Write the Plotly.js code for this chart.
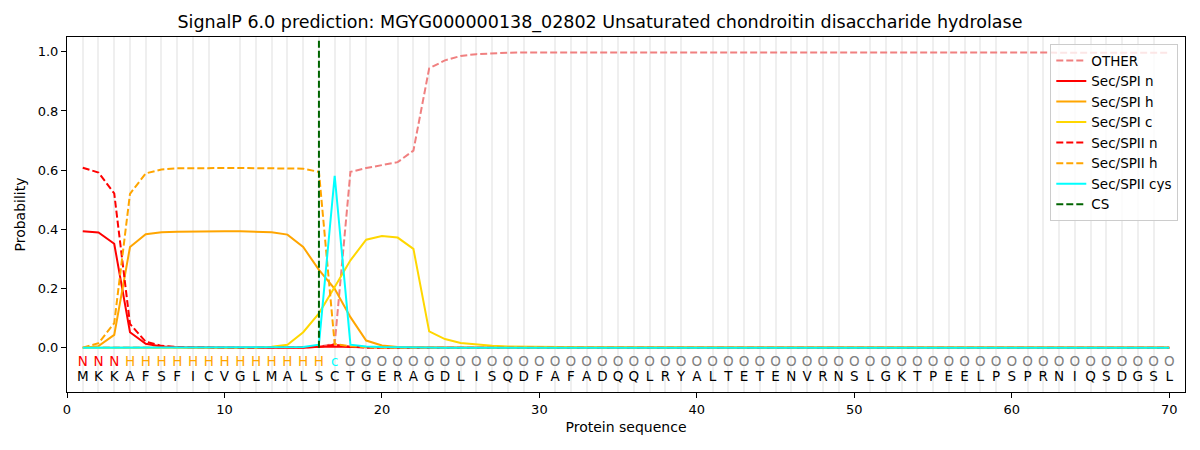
<!DOCTYPE html>
<html>
<head>
<meta charset="utf-8">
<script src="https://cdn.plot.ly/plotly-3.0.1.min.js"></script>
<style>
  body { margin: 0; background: #fff; }
  #chart { width: 1200px; height: 450px; }
</style>
</head>
<body>
<div id="chart"></div>
<script>
const SEQUENCE = ["M","K","K","A","F","S","F","I","C","V",
                  "G","L","M","A","L","S","C","T","G","E",
                  "R","A","G","D","L","I","S","Q","D","F",
                  "A","F","A","D","Q","Q","L","R","Y","A",
                  "L","T","E","T","E","N","V","R","N","S",
                  "L","G","K","T","P","E","E","L","P","S",
                  "P","R","N","I","Q","S","D","G","S","L"];

const LABELS = ["N","N","N","H","H","H","H","H","H","H",
                "H","H","H","H","H","H","c","O","O","O",
                "O","O","O","O","O","O","O","O","O","O",
                "O","O","O","O","O","O","O","O","O","O",
                "O","O","O","O","O","O","O","O","O","O",
                "O","O","O","O","O","O","O","O","O","O",
                "O","O","O","O","O","O","O","O","O","O"];

const OTHER = [0,0,0,0,0,0,0,0,0,0,
               0,0,0,0,0.001,0.003,0.013,0.594,0.607,0.617,
               0.627,0.666,0.944,0.971,0.986,0.992,0.995,0.997,0.998,0.998,
               0.998,0.998,0.998,0.998,0.998,0.998,0.998,0.998,0.998,0.998,
               0.998,0.998,0.998,0.998,0.998,0.998,0.998,0.998,0.998,0.998,
               0.998,0.998,0.998,0.998,0.998,0.997,0.997,0.997,0.997,0.997,
               0.997,0.997,0.997,0.997,0.997,0.997,0.997,0.997,0.997,0.997];

const SPI_N = [0.393,0.389,0.351,0.052,0.013,0.004,0.001,0,0,0,
               0,0,0,0,0,0.003,0.004,0.002,0.001,0,
               0,0,0,0,0,0,0,0,0,0,
               0,0,0,0,0,0,0,0,0,0,
               0,0,0,0,0,0,0,0,0,0,
               0,0,0,0,0,0,0,0,0,0,
               0,0,0,0,0,0,0,0,0,0];

const SPI_H = [0,0.005,0.043,0.34,0.383,0.39,0.392,0.393,0.393,0.393,
               0.393,0.392,0.39,0.382,0.34,0.263,0.199,0.103,0.024,0.007,
               0.002,0.001,0,0,0,0,0,0,0,0,
               0,0,0,0,0,0,0,0,0,0,
               0,0,0,0,0,0,0,0,0,0,
               0,0,0,0,0,0,0,0,0,0,
               0,0,0,0,0,0,0,0,0,0];

const SPI_C = [0,0,0,0,0,0,0,0,0,0,
               0,0,0.003,0.01,0.052,0.116,0.205,0.295,0.365,0.377,
               0.372,0.334,0.055,0.029,0.016,0.01,0.006,0.004,0.003,0.002,
               0.002,0.001,0.001,0.001,0.001,0.001,0.001,0.001,0.001,0.001,
               0,0,0,0,0,0,0,0,0,0,
               0,0,0,0,0,0,0,0,0,0,
               0,0,0,0,0,0,0,0,0,0];

const SPII_N = [0.608,0.592,0.521,0.08,0.02,0.006,0.002,0.001,0,0,
                0,0,0,0,0,0.002,0.01,0.003,0,0,
                0,0,0,0,0,0,0,0,0,0,
                0,0,0,0,0,0,0,0,0,0,
                0,0,0,0,0,0,0,0,0,0,
                0,0,0,0,0,0,0,0,0,0,
                0,0,0,0,0,0,0,0,0,0];

const SPII_H = [0,0.015,0.083,0.52,0.589,0.602,0.606,0.607,0.607,0.607,
                0.607,0.607,0.607,0.607,0.605,0.594,0.012,0.005,0.001,0,
                0,0,0,0,0,0,0,0,0,0,
                0,0,0,0,0,0,0,0,0,0,
                0,0,0,0,0,0,0,0,0,0,
                0,0,0,0,0,0,0,0,0,0,
                0,0,0,0,0,0,0,0,0,0];

const SPII_CYS = [0,0,0,0,0,0,0,0,0,0,
                  0,0,0,0,0.002,0.01,0.581,0.01,0.004,0.002,
                  0.001,0,0,0,0,0,0,0,0,0,
                  0,0,0,0,0,0,0,0,0,0,
                  0,0,0,0,0,0,0,0,0,0,
                  0,0,0,0,0,0,0,0,0,0,
                  0,0,0,0,0,0,0,0,0,0];

const CS_POS = [16, 16];
const CS_Y = [0, 1.04];

const LABEL_COLORS = { N: "red", H: "orange", c: "cyan", O: "gray" };

let positions = SEQUENCE.map((_, i) => i + 1);
const DASH = "7px,3px";

function line(name, y, color, dash) {
    return {
        x: positions, y: y, name: name, type: "scatter", mode: "lines",
        line: { color: color, width: 2, dash: dash || "solid" },
        hoverinfo: "skip"
    };
}

var traces = [
    line("OTHER", OTHER, "#F08080", DASH),
    line("Sec/SPI n", SPI_N, "red"),
    line("Sec/SPI h", SPI_H, "orange"),
    line("Sec/SPI c", SPI_C, "gold"),
    line("Sec/SPII n", SPII_N, "red", DASH),
    line("Sec/SPII h", SPII_H, "orange", DASH),
    line("Sec/SPII cys", SPII_CYS, "cyan"),
    {
        x: CS_POS, y: CS_Y, name: "CS", type: "scatter", mode: "lines",
        line: { color: "#006400", width: 2, dash: DASH }, hoverinfo: "skip"
    },
    {
        x: positions, y: positions.map(() => -0.05), text: LABELS,
        type: "scatter", mode: "text", showlegend: false, cliponaxis: false,
        textfont: { family: "DejaVu Sans", size: 13.5, color: LABELS.map(l => LABEL_COLORS[l]) },
        hoverinfo: "skip"
    },
    {
        x: positions, y: positions.map(() => -0.1), text: SEQUENCE,
        type: "scatter", mode: "text", showlegend: false, cliponaxis: false,
        textfont: { family: "DejaVu Sans", size: 13.5, color: "black" },
        hoverinfo: "skip"
    }
];

var layout = {
    width: 1200,
    height: 450,
    paper_bgcolor: "white",
    plot_bgcolor: "white",
    font: { family: "DejaVu Sans", size: 13, color: "black" },
    margin: { l: 67, r: 15, t: 37, b: 58 },
    title: {
        text: "SignalP 6.0 prediction: MGYG000000138_02802 Unsaturated chondroitin disaccharide hydrolase",
        font: { size: 17.5 }, x: 0.5, xanchor: "center", y: 0.951, yanchor: "middle"
    },
    xaxis: {
        title: { text: "Protein sequence", standoff: 6, font: { size: 14 } },
        range: [0, 71],
        tickmode: "linear", tick0: 0, dtick: 10,
        ticks: "outside", ticklen: 5, tickcolor: "black",
        showgrid: false, zeroline: false,
        showline: true, linecolor: "black", linewidth: 1, mirror: true,
        minor: { dtick: 1, tick0: 0, showgrid: true, gridcolor: "#efefef", gridwidth: 2, ticks: "" }
    },
    yaxis: {
        title: { text: "Probability", standoff: 8, font: { size: 14 } },
        range: [-0.15, 1.05],
        tickmode: "linear", tick0: 0, dtick: 0.2, tickformat: ".1f",
        ticks: "outside", ticklen: 5, tickcolor: "black",
        showgrid: false, zeroline: false,
        showline: true, linecolor: "black", linewidth: 1, mirror: true
    },
    legend: {
        x: 0.994, y: 0.98, xanchor: "right", yanchor: "top",
        bgcolor: "rgba(255,255,255,0.8)", bordercolor: "#cccccc", borderwidth: 1,
        font: { size: 13.5 }
    },
    showlegend: true
};

Plotly.newPlot("chart", traces, layout, { staticPlot: true });
</script>
</body>
</html>
